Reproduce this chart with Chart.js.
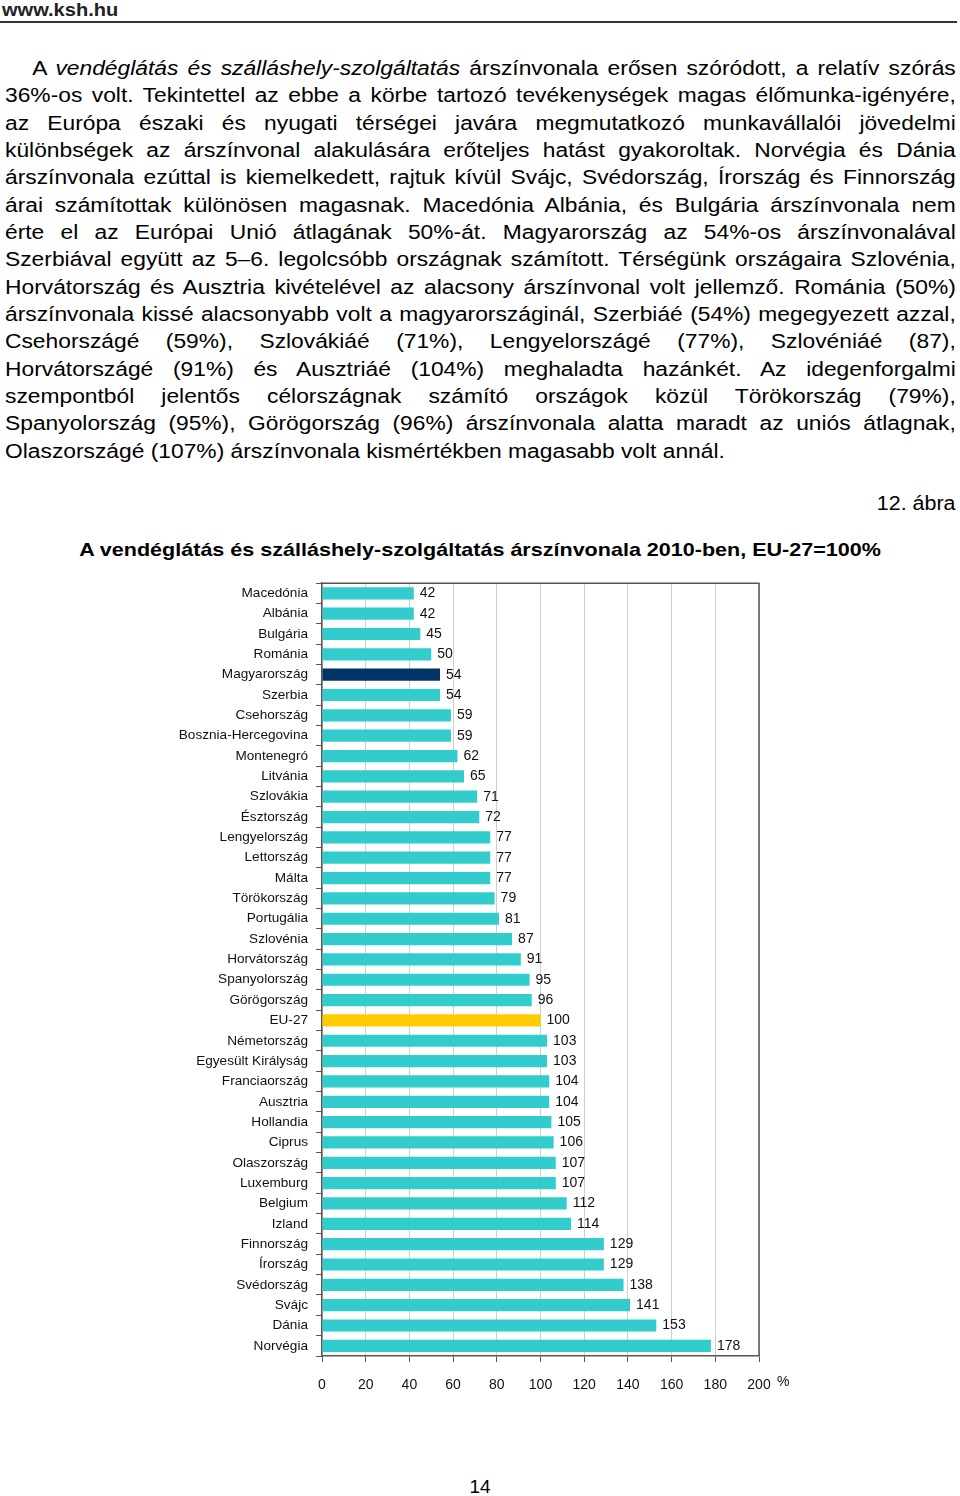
<!DOCTYPE html>
<html lang="hu">
<head>
<meta charset="utf-8">
<script src="https://cdn.jsdelivr.net/npm/chart.js@4"></script>
<style>
  body { margin: 0; background: #fff; font-family: "Liberation Sans", Arial, sans-serif; color: #000; }
  #page { position: relative; width: 960px; height: 1496px; overflow: hidden; }
  .hdr { position: absolute; left: 2px; top: -1px; font-weight: bold; font-size: 19px; color: #222;
         transform: scaleX(1.055); transform-origin: 0 0; }
  .rule { position: absolute; left: 0; top: 21px; width: 957px; height: 2px; background: #333; }
  .para { position: absolute; left: 5px; top: 55px; width: 834px; font-size: 20px; line-height: 27.35px;
          transform: scaleX(1.14); transform-origin: 0 0; }
  .para div { text-align: justify; text-align-last: justify; white-space: nowrap; }
  .para div.last { text-align-last: left; }
  .para div.first { padding-left: 24px; }
  .abra { position: absolute; right: 4px; top: 492px; font-size: 19.5px;
          transform: scaleX(1.1); transform-origin: 100% 0; }
  .title { position: absolute; left: 0; width: 960px; top: 539px; text-align: center; font-weight: bold; font-size: 18.5px;
           transform: scaleX(1.164); transform-origin: 50% 0; }
  .pnum { position: absolute; left: 0; width: 960px; top: 1476px; text-align: center; font-size: 19px; }
  #wrap { position: absolute; left: 0; top: 567px; width: 960px; height: 829px; }
</style>
</head>
<body>
<div id="page">
  <div class="hdr">www.ksh.hu</div>
  <div class="rule"></div>
  <div class="para">
    <div class="first">A <i>vendéglátás és szálláshely-szolgáltatás</i> árszínvonala erősen szóródott, a relatív szórás</div>
    <div>36%-os volt. Tekintettel az ebbe a körbe tartozó tevékenységek magas élőmunka-igényére,</div>
    <div>az Európa északi és nyugati térségei javára megmutatkozó munkavállalói jövedelmi</div>
    <div>különbségek az árszínvonal alakulására erőteljes hatást gyakoroltak. Norvégia és Dánia</div>
    <div>árszínvonala ezúttal is kiemelkedett, rajtuk kívül Svájc, Svédország, Írország és Finnország</div>
    <div>árai számítottak különösen magasnak. Macedónia Albánia, és Bulgária árszínvonala nem</div>
    <div>érte el az Európai Unió átlagának 50%-át. Magyarország az 54%-os árszínvonalával</div>
    <div>Szerbiával együtt az 5–6. legolcsóbb országnak számított. Térségünk országaira Szlovénia,</div>
    <div>Horvátország és Ausztria kivételével az alacsony árszínvonal volt jellemző. Románia (50%)</div>
    <div>árszínvonala kissé alacsonyabb volt a magyarországinál, Szerbiáé (54%) megegyezett azzal,</div>
    <div>Csehországé (59%), Szlovákiáé (71%), Lengyelországé (77%), Szlovéniáé (87),</div>
    <div>Horvátországé (91%) és Ausztriáé (104%) meghaladta hazánkét. Az idegenforgalmi</div>
    <div>szempontból jelentős célországnak számító országok közül Törökország (79%),</div>
    <div>Spanyolország (95%), Görögország (96%) árszínvonala alatta maradt az uniós átlagnak,</div>
    <div class="last">Olaszországé (107%) árszínvonala kismértékben magasabb volt annál.</div>
  </div>
  <div class="abra">12. ábra</div>
  <div class="title">A vendéglátás és szálláshely-szolgáltatás árszínvonala 2010-ben, EU-27=100%</div>
  <div id="wrap"><canvas id="arszint"></canvas></div>
  <div class="pnum">14</div>
</div>

<script>
// orszagok, felulrol lefele
const countries = [
  "Macedónia", "Albánia", "Bulgária", "Románia", "Magyarország", "Szerbia",
  "Csehország", "Bosznia-Hercegovina", "Montenegró", "Litvánia", "Szlovákia",
  "Észtország", "Lengyelország", "Lettország", "Málta", "Törökország",
  "Portugália", "Szlovénia", "Horvátország", "Spanyolország", "Görögország",
  "EU-27", "Németország", "Egyesült Királyság", "Franciaország", "Ausztria",
  "Hollandia", "Ciprus", "Olaszország", "Luxemburg", "Belgium", "Izland",
  "Finnország", "Írország", "Svédország", "Svájc", "Dánia", "Norvégia"
];
const priceLevel = [
  42, 42, 45, 50, 54, 54,
  59, 59, 62, 65, 71,
  72, 77, 77, 77, 79,
  81, 87, 91, 95, 96,
  100, 103, 103, 104, 104,
  105, 106, 107, 107, 112, 114,
  129, 129, 138, 141, 153, 178
];
const xTicks = [0, 20, 40, 60, 80, 100, 120, 140, 160, 180, 200];

const barColors = countries.map(c =>
  c === "Magyarország" ? "#003366" : c === "EU-27" ? "#ffcc00" : "#33cccc");

const fontFamily = "'Liberation Sans', Arial, sans-serif";
const labelFont = "14px " + fontFamily;

// ertekcimkek a savok vegen + keret + % jel
const extras = {
  id: "extras",
  afterDatasetsDraw(chart) {
    const ctx = chart.ctx;
    const meta = chart.getDatasetMeta(0);
    ctx.save();
    ctx.font = labelFont;
    ctx.fillStyle = "#111";
    ctx.textAlign = "left";
    ctx.textBaseline = "middle";
    meta.data.forEach((bar, i) => {
      ctx.fillText(String(priceLevel[i]), bar.x + 6, bar.y);
    });
    ctx.restore();
  },
  afterDraw(chart) {
    const { ctx, chartArea: a, scales } = chart;
    ctx.save();
    ctx.strokeStyle = "#555";
    ctx.lineWidth = 1.5;
    ctx.beginPath();
    ctx.moveTo(a.left, a.top);
    ctx.lineTo(a.right, a.top);
    ctx.lineTo(a.right, a.bottom);
    ctx.stroke();
    ctx.font = labelFont;
    ctx.fillStyle = "#111";
    ctx.textBaseline = "middle";
    ctx.fillText("%", scales.x.getPixelForValue(200) + 18, a.bottom + 26);
    ctx.restore();
  }
};

new Chart("arszint", {
  type: "bar",
  data: {
    labels: countries,
    datasets: [{
      data: priceLevel,
      backgroundColor: barColors,
      categoryPercentage: 0.6,
      barPercentage: 1
    }]
  },
  options: {
    indexAxis: "y",
    responsive: true,
    maintainAspectRatio: false,
    animation: false,
    layout: { padding: { left: 0, right: 201, top: 0, bottom: 0 } },
    plugins: {
      legend: { display: false },
      tooltip: { enabled: false }
    },
    scales: {
      x: {
        min: 0,
        max: 200,
        afterBuildTicks: s => { s.ticks = xTicks.map(v => ({ value: v })); },
        afterFit: s => { s.height = 40; },
        grid: { color: "#cfcfcf", lineWidth: 1, tickColor: "#555", tickLength: 6 },
        border: { color: "#555", width: 1.5 },
        ticks: { color: "#111", font: { family: fontFamily, size: 14 }, padding: 15, maxRotation: 0 }
      },
      y: {
        afterFit: s => { s.width = 322; },
        grid: { drawOnChartArea: false, tickColor: "#555", tickLength: 6, offset: true },
        border: { color: "#555", width: 1.5 },
        ticks: { color: "#111", font: { family: fontFamily, size: 13.6 }, padding: 8, autoSkip: false }
      }
    }
  },
  plugins: [extras]
});
</script>
</body>
</html>
